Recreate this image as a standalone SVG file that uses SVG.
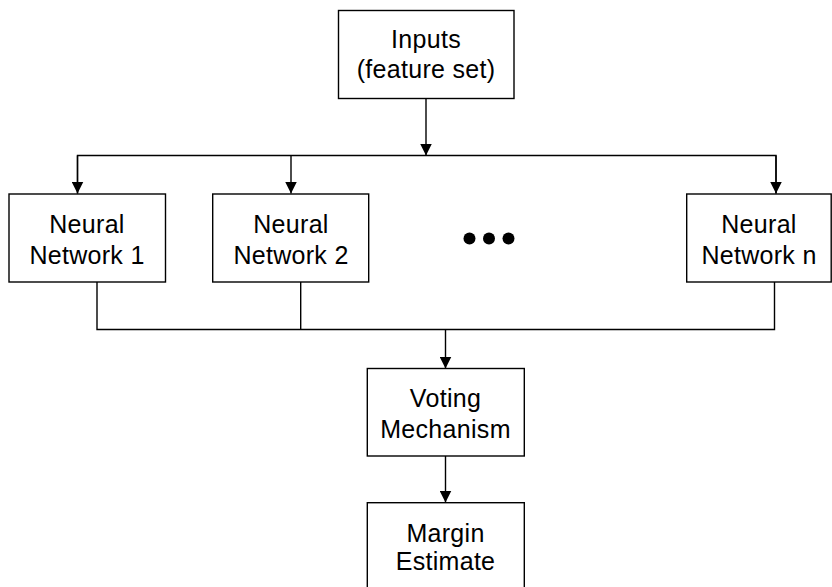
<svg xmlns="http://www.w3.org/2000/svg" width="832" height="587" viewBox="0 0 832 587">
<defs>
<marker id="arr" markerWidth="12" markerHeight="12" refX="12" refY="6" orient="auto" markerUnits="userSpaceOnUse">
<path d="M0,0 L12,6 L0,12 Z" fill="#000"/>
</marker>
</defs>
<style>
.box{fill:#fff;stroke:#000;stroke-width:1.4}
.t{font-family:"Liberation Sans",Arial,sans-serif;font-size:25px;fill:#000;text-anchor:middle;letter-spacing:0.3px}
.c{fill:none;stroke:#000;stroke-width:1.4}
</style>
<rect width="832" height="587" fill="#fff"/>
<g id="connectors">
<line class="c" x1="426" y1="98.5" x2="426" y2="155.5" marker-end="url(#arr)"/>
<polyline class="c" points="77.5,193.5 77.5,155.5 776,155.5 776,193.5"/>
<line class="c" x1="77.5" y1="155.5" x2="77.5" y2="193.5" marker-end="url(#arr)"/>
<line class="c" x1="291" y1="155.5" x2="291" y2="193.5" marker-end="url(#arr)"/>
<line class="c" x1="776" y1="155.5" x2="776" y2="193.5" marker-end="url(#arr)"/>
<polyline class="c" points="97,282 97,329.5 774.5,329.5 774.5,282"/>
<line class="c" x1="300.7" y1="282" x2="300.7" y2="329.5"/>
<line class="c" x1="445.5" y1="329.5" x2="445.5" y2="368.5" marker-end="url(#arr)"/>
<line class="c" x1="445.5" y1="456" x2="445.5" y2="502.5" marker-end="url(#arr)"/>
</g>
<g id="inputs">
<rect class="box" x="338.5" y="10.5" width="175.5" height="88"/>
<text class="t" x="426" y="47.5">Inputs</text>
<text class="t" x="426" y="78">(feature set)</text>
</g>
<g id="nn1">
<rect class="box" x="9" y="194" width="156.5" height="88"/>
<text class="t" x="87" y="232.5">Neural</text>
<text class="t" x="87" y="263.5">Network 1</text>
</g>
<g id="nn2">
<rect class="box" x="212.7" y="194" width="156" height="88"/>
<text class="t" x="291" y="232.5">Neural</text>
<text class="t" x="291" y="263.5">Network 2</text>
</g>
<g id="dots">
<circle cx="469.5" cy="238.5" r="6"/>
<circle cx="489" cy="238.5" r="6"/>
<circle cx="508.5" cy="238.5" r="6"/>
</g>
<g id="nnn">
<rect class="box" x="686.7" y="194" width="144.5" height="88"/>
<text class="t" x="759" y="232.5">Neural</text>
<text class="t" x="759" y="263.5">Network n</text>
</g>
<g id="voting">
<rect class="box" x="367.3" y="368.5" width="157" height="87.5"/>
<text class="t" x="445.5" y="407">Voting</text>
<text class="t" x="445.5" y="437.5">Mechanism</text>
</g>
<g id="margin">
<rect class="box" x="367.3" y="502.7" width="157" height="95"/>
<text class="t" x="445.5" y="541.5">Margin</text>
<text class="t" x="445.5" y="570">Estimate</text>
</g>
</svg>
